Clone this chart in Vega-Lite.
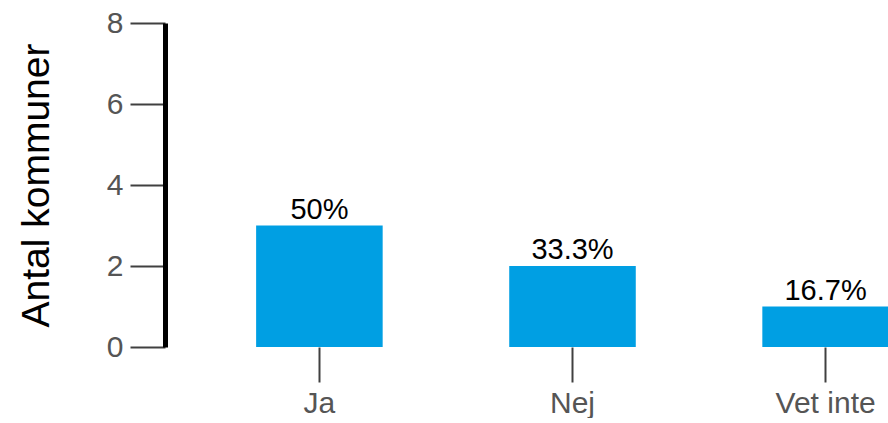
{
  "$schema": "https://vega.github.io/schema/vega-lite/v6.json",
  "width": 815,
  "height": 324,
  "padding": {"left": 17, "top": 8, "right": 0, "bottom": 0},
  "background": "white",
  "config": {"view": {"stroke": null}, "font": "Liberation Sans"},
  "data": {"values": [
    {"svar": "Ja", "antal": 3, "andel": "50%"},
    {"svar": "Nej", "antal": 2, "andel": "33.3%"},
    {"svar": "Vet inte", "antal": 1, "andel": "16.7%"}
  ]},
  "encoding": {
    "x": {"field": "svar", "type": "nominal", "sort": null,
      "scale": {"paddingInner": 0.5, "paddingOuter": 0.36},
      "axis": {"title": null, "labelAngle": 0, "domain": false, "tickSize": 35, "tickWidth": 2, "tickColor": "#404040",
        "labelFontSize": 30, "labelColor": "#555555", "labelPadding": 6}},
    "y": {"field": "antal", "type": "quantitative",
      "scale": {"domain": [0, 8]},
      "axis": {"title": "Antal kommuner", "values": [0, 2, 4, 6, 8], "grid": false,
        "domainColor": "black", "domainWidth": 5, "tickSize": 35, "tickWidth": 2, "tickColor": "#404040",
        "labelFontSize": 30, "labelColor": "#555555", "labelPadding": 7,
        "titleFontSize": 39, "titleFontWeight": "normal", "titleColor": "black", "titlePadding": 50}}
  },
  "layer": [
    {"mark": {"type": "bar", "color": "#009fe3"}},
    {"mark": {"type": "text", "baseline": "alphabetic", "dy": -7, "fontSize": 29, "color": "black"},
      "encoding": {"text": {"field": "andel"}}}
  ]
}
